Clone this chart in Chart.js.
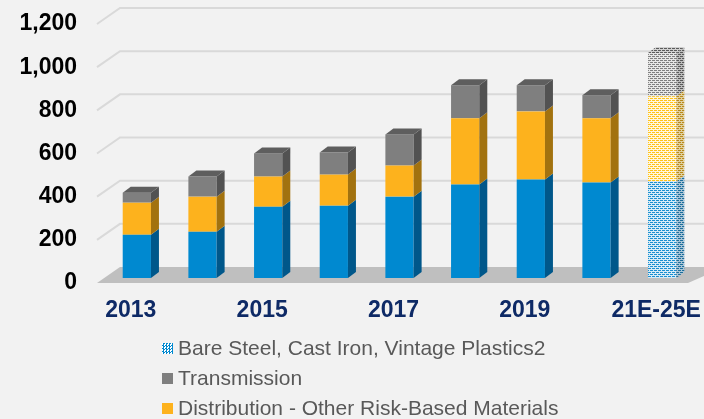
<!DOCTYPE html>
<html>
<head>
<meta charset="utf-8">
<script src="https://cdn.jsdelivr.net/npm/chart.js@4.4.1/dist/chart.umd.min.js"></script>
<style>
  html, body { margin: 0; padding: 0; background: #f2f2f2; }
  #wrap { position: relative; width: 704px; height: 419px; overflow: hidden; }
  #legend {
    position: absolute; left: 162px; top: 333px;
    font-family: "Liberation Sans", Arial, sans-serif; font-size: 21px; color: #595959;
  }
  .item { height: 30px; display: flex; align-items: center; white-space: nowrap; }
  .box { width: 11px; height: 11px; margin-right: 5px; flex: none; }
</style>
</head>
<body>
<div id="wrap">
  <canvas id="chart" width="704" height="419"></canvas>
  <div id="legend"></div>
</div>
<script>
const categories = ["2013", "2014", "2015", "2016", "2017", "2018", "2019", "2020", "21E-25E"]
const bareSteel = [200, 214, 330, 335, 377, 433, 456, 442, 447]
const otherRisk = [149, 163, 140, 144, 144, 307, 316, 298, 395]
const transmission = [46, 93, 107, 102, 144, 153, 121, 107, 200]
const yTicks = [0, 200, 400, 600, 800, 1000, 1200]
const legendLabels = ["Bare Steel, Cast Iron, Vintage Plastics2", "Transmission", "Distribution - Other Risk-Based Materials"]

// dashed horizontal hatch used for the forecast bar
function hatch(color, bg) {
  const rows = ["CCCb", "bbbb", "CbCC", "bbbb"]
  const c = document.createElement("canvas")
  c.width = 4; c.height = 4
  const g = c.getContext("2d")
  rows.forEach((r, yy) => {
    for (let xx = 0; xx < r.length; xx++) {
      g.fillStyle = r[xx] === "C" ? color : bg
      g.fillRect(xx, yy, 1, 1)
    }
  })
  return g.createPattern(c, "repeat")
}

const last = categories.length - 1
const fill = (solid, pat) => categories.map((_, i) => i === last ? pat : solid)

const series = [
  { label: "Bare Steel", data: bareSteel, front: "#0089d0", side: "#00578a", top: "#0070aa",
    hf: ["#1a8fd0", "#d6ebf7"], hs: ["#1d6f9c", "#a9c4d6"] },
  { label: "Distribution - Other Risk-Based Materials", data: otherRisk, front: "#fdb21d", side: "#a2720f", top: "#c88c14",
    hf: ["#fec21a", "#fff6dc"], hs: ["#b8891c", "#e0d0a0"] },
  { label: "Transmission", data: transmission, front: "#7f7f7f", side: "#525252", top: "#5e5e5e",
    hf: ["#7f7f7f", "#e6e6e6"], hs: ["#5a5a5a", "#bdbdbd"] }
]

const DX = 8, DY = 6

const bar3d = {
  id: "bar3d",
  beforeDatasetsDraw(chart) {
    const { ctx, chartArea: a, scales: { y } } = chart
    const fx = a.left - 7, bx = a.left + 16
    const y0 = y.getPixelForValue(0)
    ctx.save()
    // floor
    ctx.fillStyle = "#bfbfbf"
    ctx.beginPath()
    ctx.moveTo(fx, y0 + 5)
    ctx.lineTo(bx, y0 - 11)
    ctx.lineTo(chart.width + 20, y0 - 11)
    ctx.lineTo(a.right - 7, y0 + 5)
    ctx.closePath()
    ctx.fill()
    // wall grid lines
    ctx.strokeStyle = "#d9d9d9"
    ctx.lineWidth = 2
    yTicks.slice(1).forEach(v => {
      const py = y.getPixelForValue(v)
      ctx.beginPath()
      ctx.moveTo(fx, py + 5)
      ctx.lineTo(bx, py - 11)
      ctx.lineTo(chart.width, py - 11)
      ctx.stroke()
    })
    ctx.restore()
  },
  afterDatasetsDraw(chart) {
    const { ctx } = chart
    const n = chart.data.datasets.length
    ctx.save()
    chart.data.datasets.forEach((ds, i) => {
      const meta = chart.getDatasetMeta(i)
      meta.data.forEach((bar, j) => {
        const { x, y, base, width } = bar.getProps(["x", "y", "base", "width"], true)
        const l = x - width / 2, r = x + width / 2
        const t = Math.min(y, base), b = Math.max(y, base)
        ctx.fillStyle = ds.sideColors[j]
        ctx.beginPath()
        ctx.moveTo(r, t); ctx.lineTo(r + DX, t - DY); ctx.lineTo(r + DX, b - DY); ctx.lineTo(r, b)
        ctx.closePath(); ctx.fill()
        if (i === n - 1) {
          ctx.fillStyle = ds.topColors[j]
          ctx.beginPath()
          ctx.moveTo(l, t); ctx.lineTo(l + DX, t - DY); ctx.lineTo(r + DX, t - DY); ctx.lineTo(r, t)
          ctx.closePath(); ctx.fill()
        }
      })
    })
    ctx.restore()
  }
}

const ctx = document.getElementById("chart").getContext("2d")

const datasets = series.map(s => ({
  label: s.label,
  data: s.data,
  backgroundColor: fill(s.front, hatch(...s.hf)),
  sideColors: fill(s.side, hatch(...s.hs)),
  topColors: fill(s.top, hatch(s.hs[0], "#d0d0d0")),
  borderWidth: 0,
  barPercentage: 0.43,
  categoryPercentage: 1
}))

const chart = new Chart(ctx, {
  type: "bar",
  data: { labels: categories, datasets },
  plugins: [bar3d],
  options: {
    responsive: false,
    animation: false,
    layout: { padding: { left: 0, right: 9, top: 19, bottom: 95 } },
    plugins: { legend: { display: false }, tooltip: { enabled: false } },
    scales: {
      x: {
        stacked: true,
        grid: { display: false, drawTicks: false },
        border: { display: false },
        ticks: {
          autoSkip: false,
          maxRotation: 0,
          padding: 19,
          labelOffset: -6,
          color: "#0e2a66",
          font: { family: "'Liberation Sans', Arial, sans-serif", size: 23, weight: "bold" },
          callback: (v, i) => i % 2 === 0 ? categories[i] : ""
        },
        afterFit(s) { s.height = 46; s.paddingLeft = 0; s.paddingRight = 0 }
      },
      y: {
        stacked: true,
        min: 0,
        max: 1200,
        grid: { display: false, drawTicks: false },
        border: { display: false },
        ticks: {
          stepSize: 200,
          padding: 27,
          labelOffset: 5,
          color: "#000",
          font: { family: "'Liberation Sans', Arial, sans-serif", size: 23, weight: "bold" },
          callback: v => v.toLocaleString("en-US")
        },
        afterFit(s) { s.width = 104; s.paddingTop = 0; s.paddingBottom = 0 }
      }
    }
  }
})

// vertical legend below the plot
const legendBoxes = [
  "repeating-conic-gradient(#0089d0 0 25%, #ffffff 0 50%) 0 0 / 3px 3px",
  "#7f7f7f",
  "#fdb21d"
]
const legendEl = document.getElementById("legend")
legendLabels.forEach((text, i) => {
  const row = document.createElement("div")
  row.className = "item"
  const box = document.createElement("span")
  box.className = "box"
  box.style.background = legendBoxes[i]
  const lab = document.createElement("span")
  lab.textContent = text
  row.appendChild(box)
  row.appendChild(lab)
  legendEl.appendChild(row)
})
</script>
</body>
</html>
